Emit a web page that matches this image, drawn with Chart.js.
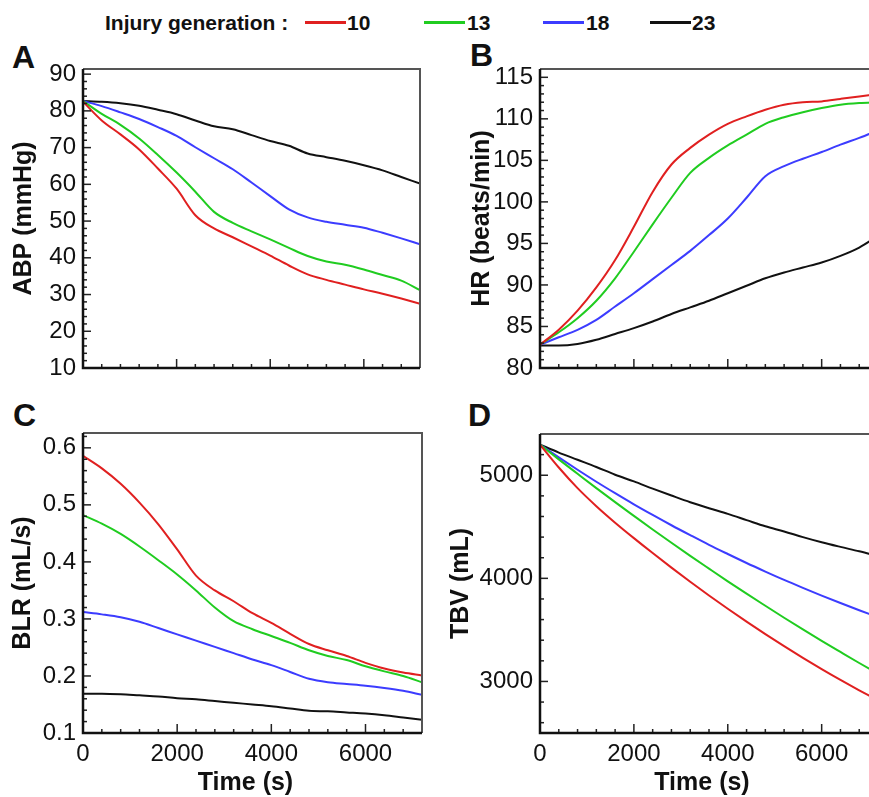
<!DOCTYPE html>
<html>
<head>
<meta charset="utf-8">
<script src="https://cdn.jsdelivr.net/npm/chart.js@4.4.1/dist/chart.umd.min.js"></script>
<style>
  body { margin: 0; background: #fff; }
  #page { position: relative; width: 869px; height: 797px; overflow: hidden; font-family: "Liberation Sans", Arial, sans-serif; color: #111; }
  canvas { position: absolute; }
  .lbl { position: absolute; font-weight: bold; line-height: 1; white-space: nowrap; }
  .key { position: absolute; height: 3px; top: 21px; width: 41px; }
</style>
</head>
<body>
<div id="page">
  <div class="lbl" style="left:105px;top:12px;font-size:21px">Injury generation :</div>
  <div class="key" style="left:305px;background:#e02020"></div>
  <div class="lbl" style="left:347px;top:12px;font-size:21px">10</div>
  <div class="key" style="left:424px;background:#20cc20"></div>
  <div class="lbl" style="left:467px;top:12px;font-size:21px">13</div>
  <div class="key" style="left:543px;background:#3c3cff"></div>
  <div class="lbl" style="left:586px;top:12px;font-size:21px">18</div>
  <div class="key" style="left:650px;background:#111"></div>
  <div class="lbl" style="left:692px;top:12px;font-size:21px">23</div>

  <div class="lbl" style="left:12px;top:41px;font-size:32px">A</div>
  <div class="lbl" style="left:470px;top:39px;font-size:32px">B</div>
  <div class="lbl" style="left:13px;top:399px;font-size:32px">C</div>
  <div class="lbl" style="left:468px;top:399px;font-size:32px">D</div>

  <canvas id="chartA" width="440" height="364" style="left:0;top:36px"></canvas>
  <canvas id="chartB" width="460" height="364" style="left:440px;top:36px"></canvas>
  <canvas id="chartC" width="440" height="397" style="left:0;top:400px"></canvas>
  <canvas id="chartD" width="460" height="397" style="left:440px;top:400px"></canvas>
</div>
<script>
// time (s), shared by all panels
const TIME = [0, 400, 800, 1200, 1600, 2000, 2400, 2800, 3200, 3600, 4000, 4400, 4800, 5200, 5600, 6000, 6400, 6800, 7200];
const GENERATIONS = ['10', '13', '18', '23'];
const COLORS = ['#e02020', '#20cc20', '#3c3cff', '#111111'];
const X_TICKS = [0, 2000, 4000, 6000];

// A: ABP (mmHg)
const ABP_10 = [82.5, 77.4, 73.6, 69.5, 64.3, 58.8, 51.6, 48.0, 45.6, 43.1, 40.6, 37.9, 35.5, 34.0, 32.7, 31.4, 30.2, 28.9, 27.5];
const ABP_13 = [82.7, 79.2, 76.2, 72.5, 68.0, 63.2, 58.0, 52.5, 49.5, 47.2, 45.0, 42.7, 40.5, 39.0, 38.1, 36.8, 35.3, 33.8, 31.2];
const ABP_18 = [82.7, 81.3, 79.6, 77.8, 75.6, 73.2, 70.1, 67.1, 64.1, 60.5, 56.8, 53.2, 51.0, 49.8, 49.0, 48.2, 46.8, 45.3, 43.7];
const ABP_23 = [82.7, 82.5, 82.1, 81.4, 80.3, 79.1, 77.4, 75.8, 75.0, 73.4, 71.8, 70.5, 68.4, 67.4, 66.4, 65.2, 63.8, 62.0, 60.2];
const ABP_TICKS = [10, 20, 30, 40, 50, 60, 70, 80, 90];

// B: HR (beats/min)
const HR_10 = [82.8, 84.6, 86.9, 89.7, 93.0, 97.0, 101.2, 104.5, 106.5, 108.1, 109.4, 110.3, 111.1, 111.7, 112.0, 112.1, 112.4, 112.7, 113.0];
const HR_13 = [82.8, 84.3, 86.0, 88.1, 90.8, 94.0, 97.3, 100.5, 103.5, 105.3, 106.8, 108.1, 109.4, 110.2, 110.8, 111.3, 111.7, 111.9, 112.0];
const HR_18 = [82.8, 83.7, 84.6, 85.8, 87.4, 89.0, 90.7, 92.4, 94.1, 96.0, 98.0, 100.5, 103.1, 104.3, 105.2, 106.0, 106.9, 107.7, 108.6];
const HR_23 = [82.7, 82.7, 82.9, 83.4, 84.1, 84.8, 85.6, 86.5, 87.3, 88.1, 89.0, 89.9, 90.8, 91.5, 92.1, 92.7, 93.5, 94.5, 95.9];
const HR_TICKS = [80, 85, 90, 95, 100, 105, 110, 115];

// C: BLR (mL/s)
const BLR_10 = [0.586, 0.564, 0.537, 0.504, 0.466, 0.422, 0.376, 0.350, 0.331, 0.310, 0.293, 0.274, 0.256, 0.245, 0.235, 0.223, 0.213, 0.206, 0.201];
const BLR_13 = [0.482, 0.467, 0.449, 0.427, 0.403, 0.378, 0.350, 0.320, 0.296, 0.282, 0.270, 0.258, 0.245, 0.235, 0.228, 0.217, 0.208, 0.200, 0.189];
const BLR_18 = [0.312, 0.308, 0.303, 0.295, 0.284, 0.273, 0.262, 0.251, 0.240, 0.229, 0.219, 0.207, 0.195, 0.189, 0.186, 0.183, 0.179, 0.174, 0.167];
const BLR_23 = [0.169, 0.169, 0.168, 0.166, 0.164, 0.161, 0.159, 0.156, 0.153, 0.150, 0.147, 0.143, 0.139, 0.138, 0.136, 0.134, 0.131, 0.127, 0.123];
const BLR_TICKS = [0.1, 0.2, 0.3, 0.4, 0.5, 0.6];

// D: TBV (mL)
const TBV_10 = [5297, 5075, 4875, 4700, 4540, 4390, 4245, 4104, 3967, 3834, 3705, 3580, 3459, 3342, 3229, 3120, 3015, 2914, 2817];
const TBV_13 = [5297, 5154, 5014, 4875, 4739, 4606, 4474, 4345, 4218, 4094, 3971, 3851, 3734, 3618, 3505, 3394, 3286, 3179, 3075];
const TBV_18 = [5297, 5173, 5053, 4937, 4826, 4718, 4615, 4515, 4419, 4325, 4236, 4149, 4066, 3985, 3908, 3833, 3761, 3691, 3624];
const TBV_23 = [5297, 5220, 5150, 5080, 5005, 4940, 4870, 4803, 4738, 4680, 4625, 4565, 4505, 4455, 4400, 4350, 4305, 4262, 4215];
const TBV_TICKS = [3000, 4000, 5000];

const TICK_FONT = '24px "Liberation Sans", Arial, sans-serif';
const TITLE_FONT = 'bold 25px "Liberation Sans", Arial, sans-serif';

// tecplot-like frame: inward ticks, labels and titles drawn on the chart canvas
function framePlugin(cfg) {
  return {
    id: 'frame',
    afterDatasetsDraw(chart) {
      const { ctx, chartArea: a } = chart;
      const x = chart.scales.x, y = chart.scales.y;
      ctx.save();
      ctx.strokeStyle = '#222';
      ctx.lineWidth = 1.5;

      // y ticks
      const ys = cfg.yMinor;
      const n = Math.round((y.max - y.min) / ys);
      for (let k = 0; k <= n + 1; k++) {
        const v = Math.ceil(y.min / ys - 1e-6) * ys + k * ys;
        const py = y.getPixelForValue(v);
        if (py < a.top + 1 || py > a.bottom - 1) continue;
        const major = cfg.yTicks.some(t => Math.abs(t - v) < ys / 10);
        ctx.beginPath();
        ctx.moveTo(a.left, py);
        ctx.lineTo(a.left + (major ? 8 : 4), py);
        ctx.stroke();
      }
      // x ticks
      for (let v = 400; v < 7200; v += 400) {
        const px = x.getPixelForValue(v);
        if (px > a.right - 1) continue;
        const major = X_TICKS.includes(v);
        ctx.beginPath();
        ctx.moveTo(px, a.bottom);
        ctx.lineTo(px, a.bottom - (major ? 9 : 4));
        ctx.stroke();
      }

      // frame
      ctx.lineWidth = 2;
      ctx.strokeStyle = '#555';
      ctx.beginPath();
      ctx.moveTo(a.left, a.top);
      ctx.lineTo(a.right, a.top);
      ctx.lineTo(a.right, a.bottom);
      ctx.stroke();
      ctx.lineWidth = 2.5;
      ctx.strokeStyle = '#111';
      ctx.beginPath();
      ctx.moveTo(a.left, a.top);
      ctx.lineTo(a.left, a.bottom);
      ctx.lineTo(a.right, a.bottom);
      ctx.stroke();

      // tick labels
      ctx.fillStyle = '#111';
      ctx.font = TICK_FONT;
      ctx.textAlign = 'right';
      ctx.textBaseline = 'middle';
      cfg.yTicks.forEach(v => {
        ctx.fillText(v.toFixed(cfg.decimals), a.left - 7, y.getPixelForValue(v));
      });
      if (cfg.xLabels) {
        ctx.textAlign = 'center';
        X_TICKS.forEach(v => ctx.fillText(String(v), x.getPixelForValue(v), a.bottom + 21));
      }

      // titles
      ctx.font = TITLE_FONT;
      ctx.textAlign = 'center';
      ctx.save();
      ctx.translate(a.left + cfg.titleDx, (a.top + a.bottom) / 2);
      ctx.rotate(-Math.PI / 2);
      ctx.fillText(cfg.title, 0, 0);
      ctx.restore();
      if (cfg.xLabels) {
        ctx.fillText('Time (s)', (a.left + a.right) / 2 - 7, a.bottom + 50);
      }
      ctx.restore();
    }
  };
}

function makePanel(id, series, cfg) {
  return new Chart(document.getElementById(id), {
    type: 'line',
    data: {
      datasets: series.map((vals, i) => ({
        label: GENERATIONS[i],
        data: TIME.map((t, j) => ({ x: t, y: vals[j] })),
        borderColor: COLORS[i],
        borderWidth: 2,
        pointRadius: 0,
        fill: false,
        cubicInterpolationMode: 'monotone'
      }))
    },
    options: {
      responsive: false,
      animation: false,
      layout: { padding: cfg.pad },
      scales: {
        x: { type: 'linear', display: false, min: 0, max: 7200 },
        y: { type: 'linear', display: false, min: cfg.yMin, max: cfg.yMax }
      },
      plugins: {
        legend: { display: false },
        tooltip: { enabled: false }
      }
    },
    plugins: [framePlugin(cfg)]
  });
}

makePanel('chartA', [ABP_10, ABP_13, ABP_18, ABP_23], {
  pad: { left: 83, top: 33, right: 20, bottom: 32 },
  yMin: 10, yMax: 91.4, yTicks: ABP_TICKS, yMinor: 2, decimals: 0,
  title: 'ABP (mmHg)', titleDx: -59, xLabels: false
});
makePanel('chartB', [HR_10, HR_13, HR_18, HR_23], {
  pad: { left: 100, top: 33, right: 22, bottom: 32 },
  yMin: 80, yMax: 116, yTicks: HR_TICKS, yMinor: 1, decimals: 0,
  title: 'HR (beats/min)', titleDx: -58, xLabels: false
});
makePanel('chartC', [BLR_10, BLR_13, BLR_18, BLR_23], {
  pad: { left: 83, top: 33, right: 18, bottom: 64 },
  yMin: 0.1, yMax: 0.626, yTicks: BLR_TICKS, yMinor: 0.02, decimals: 1,
  title: 'BLR (mL/s)', titleDx: -60, xLabels: true
});
makePanel('chartD', [TBV_10, TBV_13, TBV_18, TBV_23], {
  pad: { left: 100, top: 34, right: 22, bottom: 64 },
  yMin: 2500, yMax: 5400, yTicks: TBV_TICKS, yMinor: 200, decimals: 0,
  title: 'TBV (mL)', titleDx: -79, xLabels: true
});
</script>
</body>
</html>
